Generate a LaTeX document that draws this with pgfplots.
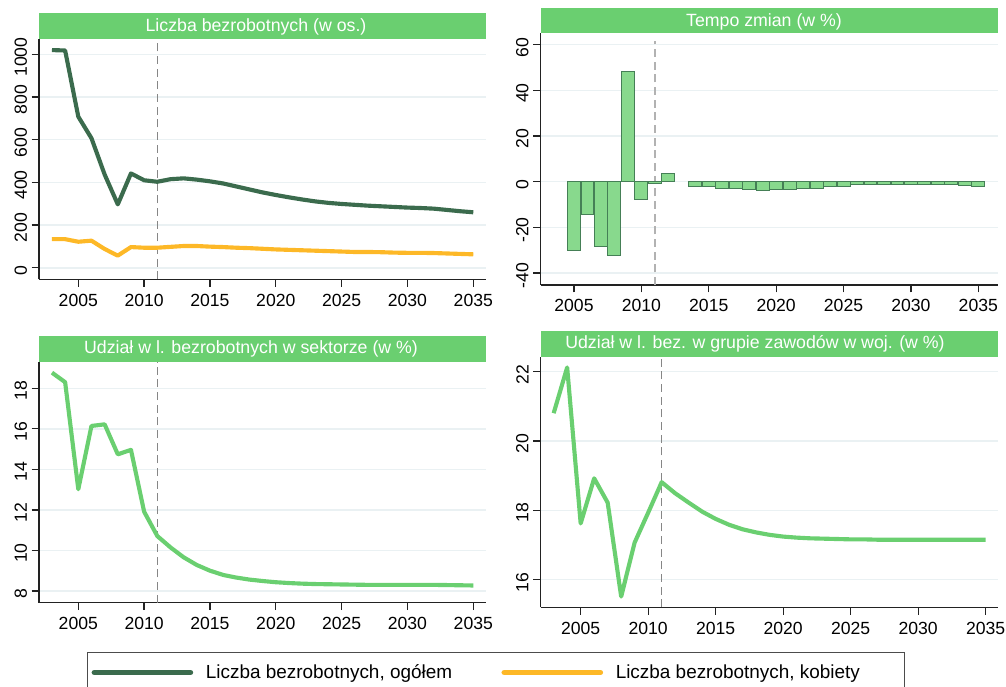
\documentclass[border=0pt]{standalone}
\usepackage{fontspec}
\setmainfont{Liberation Sans}
\usepackage{pgfplots}
\pgfplotsset{compat=1.18}
\definecolor{dkgreen}{HTML}{3B6B4D}
\definecolor{ltgreen}{HTML}{6ACF70}
\definecolor{bandgreen}{HTML}{6ACF70}
\definecolor{barfill}{HTML}{88D98D}
\definecolor{baredge}{HTML}{457F56}
\definecolor{yel}{HTML}{FDB827}
\definecolor{gridc}{HTML}{EAF1F3}
\definecolor{axc}{HTML}{222222}
\pgfplotsset{
  panel/.style={
    scale only axis, anchor=south west, clip=false,
    axis x line*=bottom, axis y line*=left,
    axis line style={draw=axc, line width=0.95pt},
    tick style={draw=axc, line width=0.95pt},
    tick align=outside, major tick length=5.5pt,
    ymajorgrids, grid style={gridc, line width=1.1pt},
    xtick={2005,2010,...,2035},
    tick label style={font=\fontsize{13.2}{15}\selectfont},
    /pgf/number format/assume math mode=true,
    /pgf/number format/1000 sep={},
    yticklabel style={rotate=90, anchor=south, xshift=-2pt},
    xticklabel style={yshift=-2pt},
    scaled ticks=false,
  },
  vline/.style={draw=gray!95, line width=0.9pt, dash pattern=on 6pt off 3.5pt, forget plot},
}
\begin{document}
\begin{tikzpicture}[x=0.75pt,y=0.75pt]
\useasboundingbox (0,0) rectangle (1006,686);

% ---------- Panel 1 ----------
\begin{axis}[panel, at={(29.25pt,305.025pt)}, width=335.0pt, height=180.2pt,
  xmin=2002.015, xmax=2035.94, ymin=-54, ymax=1071.7,
  ytick={0,200,...,1000},
  legend columns=2,
  legend style={at={(axis description cs:0.1075,-1.551)}, anchor=north west,
    draw=black!70, line width=0.9pt, inner xsep=3pt, inner ysep=7pt,
    font=\fontsize{14.2}{16}\selectfont},
  legend cell align=left,
  legend image code/.code={\draw[#1, line width=4.2pt, line cap=round] (2pt,0pt) -- (74pt,0pt);},
]
\addplot[vline] coordinates {(2011,-54) (2011,1071.7)};
\addplot[dkgreen, line width=3.1pt, line join=round] coordinates {
(2003,1020) (2004,1018) (2005,708) (2006,607) (2007,437) (2008,297) (2009,442)
(2010,410) (2011,403) (2012,415) (2013,419) (2014,413) (2015,405) (2016,395)
(2017,381) (2018,367) (2019,353) (2020,341) (2021,330) (2022,320) (2023,311)
(2024,304) (2025,299) (2026,295) (2027,291) (2028,288) (2029,285) (2030,282)
(2031,280) (2032,277) (2033,271) (2034,265) (2035,260)};
\addlegendentry{\hspace*{7.5pt}Liczba bezrobotnych, ogółem\hspace*{35pt}}
\addplot[yel, line width=3.1pt, line join=round] coordinates {
(2003,134) (2004,134) (2005,122) (2006,127) (2007,88) (2008,57) (2009,97)
(2010,94) (2011,94) (2012,98) (2013,102) (2014,102) (2015,99) (2016,97)
(2017,94) (2018,92) (2019,89) (2020,86) (2021,84) (2022,82) (2023,80)
(2024,78) (2025,76) (2026,74) (2027,74) (2028,73) (2029,71) (2030,70)
(2031,70) (2032,69) (2033,67) (2034,65) (2035,63)};
\addlegendentry{\hspace*{7.5pt}Liczba bezrobotnych, kobiety\hspace*{28.5pt}}
\end{axis}

% ---------- Panel 2 ----------
\begin{axis}[panel, at={(405.525pt,300.75pt)}, width=342.75pt, height=188.8pt,
  xmin=2002.53, xmax=2036.44, ymin=-45.25, ymax=65.0,
  ytick={-40,-20,...,60},
]
\addplot[vline, draw=gray!60, line width=1.4pt] coordinates {(2011,-45.25) (2011,61.5)};
\addplot[ybar, bar width=0.96, bar shift=0pt, fill=barfill, draw=baredge, line width=0.7pt] coordinates {
(2005,-30.1) (2006,-14.3) (2007,-28.2) (2008,-32.2) (2009,48.3) (2010,-7.6)
(2011,-1.0) (2012,3.5)
(2014,-1.9) (2015,-2.3) (2016,-2.9) (2017,-3.0) (2018,-3.3) (2019,-3.8)
(2020,-3.3) (2021,-3.3) (2022,-3.0) (2023,-2.9) (2024,-2.3) (2025,-1.9)
(2026,-1.4) (2027,-1.2) (2028,-1.2) (2029,-1.2) (2030,-1.2) (2031,-1.2)
(2032,-1.2) (2033,-1.4) (2034,-1.7) (2035,-2.0)};
\end{axis}

% ---------- Panel 3 ----------
\begin{axis}[panel, at={(29.25pt,62.475pt)}, width=335.0pt, height=180.75pt,
  xmin=2002.015, xmax=2035.94, ymin=7.42, ymax=19.31,
  ytick={8,10,...,18},
]
\addplot[vline] coordinates {(2011,7.42) (2011,19.31)};
\addplot[ltgreen, line width=3.1pt, line join=round] coordinates {
(2003,18.77) (2004,18.30) (2005,13.02) (2006,16.14) (2007,16.22) (2008,14.74)
(2009,14.96) (2010,11.91) (2011,10.71) (2012,10.15) (2013,9.66) (2014,9.28)
(2015,9.00) (2016,8.79) (2017,8.66) (2018,8.56) (2019,8.49) (2020,8.43)
(2021,8.39) (2022,8.36) (2023,8.34) (2024,8.33) (2025,8.32) (2026,8.31)
(2027,8.30) (2028,8.30) (2029,8.30) (2030,8.30) (2031,8.30) (2032,8.30)
(2033,8.29) (2034,8.28) (2035,8.27)};
\end{axis}

% ---------- Panel 4 ----------
\begin{axis}[panel, at={(405.525pt,59.025pt)}, width=342.75pt, height=187.95pt,
  xmin=2002.04, xmax=2035.89, ymin=15.2, ymax=22.43,
  ytick={16,18,20,22},
]
\addplot[vline] coordinates {(2011,15.2) (2011,22.43)};
\addplot[ltgreen, line width=3.1pt, line join=round] coordinates {
(2003,20.80) (2004,22.12) (2005,17.62) (2006,18.92) (2007,18.22) (2008,15.51)
(2009,17.07) (2010,17.93) (2011,18.81) (2012,18.49) (2013,18.22) (2014,17.96)
(2015,17.75) (2016,17.58) (2017,17.45) (2018,17.36) (2019,17.29) (2020,17.24)
(2021,17.21) (2022,17.19) (2023,17.18) (2024,17.17) (2025,17.16) (2026,17.16)
(2027,17.15) (2028,17.15) (2029,17.15) (2030,17.15) (2031,17.15) (2032,17.15)
(2033,17.15) (2034,17.15) (2035,17.15)};
\end{axis}

% ---------- Title bands ----------
\fill[bandgreen] (39,647) rectangle (485.7,672.7);
\node[text=white, font=\fontsize{13.3}{15}\selectfont] at (256,659.5) {Liczba bezrobotnych (w os.)};
\fill[bandgreen] (540.7,652.7) rectangle (997.7,677.7);
\node[text=white, font=\fontsize{13.3}{15}\selectfont] at (764,664.5) {Tempo zmian (w \%)};
\fill[bandgreen] (39,324.3) rectangle (485.7,350);
\node[text=white, font=\fontsize{13.3}{15}\selectfont] at (251,336.8) {Udział w l. bezrobotnych w sektorze (w \%)};
\fill[bandgreen] (540.7,329.3) rectangle (997.7,355);
\node[text=white, font=\fontsize{13.3}{15}\selectfont] at (755,341.8) {Udział w l. bez. w grupie zawodów w woj. (w \%)};
\end{tikzpicture}
\end{document}
